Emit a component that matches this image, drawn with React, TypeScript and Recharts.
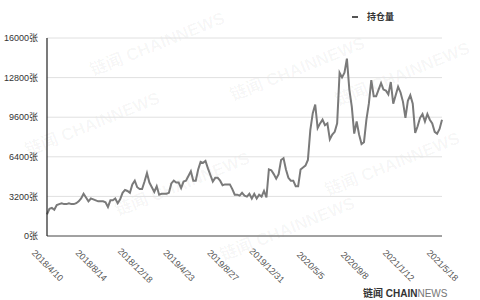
import React from "react";
import { LineChart, Line, XAxis, YAxis, CartesianGrid, Legend } from "recharts";

const START_DATE = "2018-04-10";
const WEEK_COUNT = 163;

const holdings = [
  1744, 2200, 2275, 2120, 2500, 2580, 2650, 2580, 2580, 2650,
  2580, 2580, 2650, 2800, 3030, 3410, 3110, 2800, 3030, 2960,
  2880, 2800, 2800, 2800, 2730, 2350, 2880, 2880, 3030, 2650,
  2960, 3490, 3720, 3640, 3490, 4170, 4470, 3940, 3790, 3790,
  4400, 5080, 4320, 3940, 3560, 4020, 3340, 3410, 3410, 3410,
  3490, 4250, 4470, 4320, 4320, 3870, 4400, 4470, 4850, 5230,
  4470, 4470, 5380, 5990, 5910, 6070, 5460, 4930, 4400, 4700,
  4700, 4470, 4100, 4170, 4170, 4170, 3790, 3340, 3340, 3260,
  3490, 3260, 3180, 3410, 3030, 3410, 3030, 3340, 3180, 3640,
  3110, 5380, 5310, 5000, 4630, 5000, 6140, 6290, 5380, 4700,
  4470, 4470, 4020, 4020, 5380, 5540, 5690, 6140, 8570, 9930,
  10620, 8720, 9100, 9400, 8950, 9100, 7810, 8190, 8420, 9100,
  13190, 12820, 13190, 14330, 11830, 10460, 8270, 9250, 8190, 7430,
  7580, 9400, 10690, 12590, 11300, 11300, 11830, 12360, 11830, 11750,
  11450, 12440, 10690, 11370, 12060, 11600, 10840, 9550, 10920, 11370,
  10690, 8340, 8870, 9550, 9860, 9250, 9860, 9400, 9100, 8420,
  8270, 8650, 9400,
];

const yTicks = [0, 3200, 6400, 9600, 12800, 16000];

// weekly categories, labelled like 2018/4/10
const weeks: string[] = [];
{
  const d = new Date(START_DATE + "T00:00:00Z");
  for (let i = 0; i < WEEK_COUNT; i++) {
    weeks.push(`${d.getUTCFullYear()}/${d.getUTCMonth() + 1}/${d.getUTCDate()}`);
    d.setUTCDate(d.getUTCDate() + 7);
  }
}

const data = weeks.map((week, i) => ({ week, value: holdings[i] }));

const FONT = '"Liberation Sans", Arial, "Noto Sans CJK SC", sans-serif';

function DateTick({ x, y, payload }: any) {
  return (
    <g transform={`translate(${x},${y + 22}) rotate(45)`}>
      <text textAnchor="middle" dominantBaseline="middle" fill="#555" fontSize={9} fontFamily={FONT}>
        {payload.value}
      </text>
    </g>
  );
}

function LegendBox() {
  return (
    <div style={{ display: "flex", alignItems: "center", fontFamily: FONT, fontSize: 9, color: "#333", fontWeight: 700 }}>
      <span style={{ display: "inline-block", width: 6, height: 2, background: "#555", marginRight: 9 }} />
      持仓量
    </div>
  );
}

// faint watermark spots
const marks = [
  { left: 85, top: 30 },
  { left: 20, top: 110 },
  { left: 225, top: 55 },
  { left: 330, top: 60 },
  { left: 320, top: 150 },
  { left: 110, top: 170 },
  { left: 215, top: 215 },
];

export default function App() {
  return (
    <div style={{ position: "absolute", left: 0, top: 0, width: 480, height: 300, background: "#fff", overflow: "hidden" }}>
      {marks.map((m, i) => (
        <div
          key={i}
          style={{
            position: "absolute",
            left: m.left,
            top: m.top,
            transform: "rotate(-22deg)",
            fontFamily: FONT,
            fontSize: 17,
            fontWeight: 700,
            color: "rgba(0,0,0,0.04)",
            whiteSpace: "nowrap",
          }}
        >
          链闻 CHAINNEWS
        </div>
      ))}
      <LineChart width={480} height={300} data={data} margin={{ top: 25, right: 38, left: 0, bottom: 0 }}>
        <CartesianGrid horizontal vertical={false} stroke="#e0e0e0" />
        <XAxis
          dataKey="week"
          height={64}
          interval={17}
          tick={<DateTick />}
          tickLine={false}
          axisLine={{ stroke: "#555", strokeWidth: 1 }}
        />
        <YAxis
          width={47}
          domain={[0, 16000]}
          ticks={yTicks}
          tickFormatter={(v) => `${v}张`}
          tick={{ fill: "#333", fontSize: 9, fontFamily: FONT }}
          tickLine={false}
          tickSize={0}
          tickMargin={9}
          axisLine={{ stroke: "#222", strokeWidth: 1.2 }}
        />
        <Legend
          verticalAlign="top"
          content={<LegendBox />}
          wrapperStyle={{ position: "absolute", top: 10, left: 352, width: 80 }}
        />
        <Line
          type="linear"
          dataKey="value"
          name="持仓量"
          stroke="#7a7a7a"
          strokeWidth={2}
          dot={false}
          isAnimationActive={false}
        />
      </LineChart>
      <div style={{ position: "absolute", left: 363, top: 285, fontFamily: FONT, fontSize: 10, fontWeight: 700, color: "#333", whiteSpace: "nowrap" }}>
        链闻 CHAIN<span style={{ fontWeight: 400, color: "#777" }}>NEWS</span>
      </div>
    </div>
  );
}
